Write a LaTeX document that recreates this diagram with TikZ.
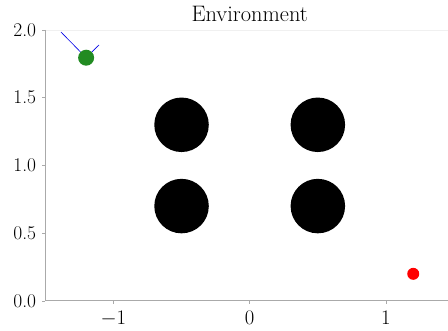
\documentclass[tikz,border=0pt]{standalone}
\usepackage{fontspec}
\usepackage{tikz}
\usetikzlibrary{positioning}
\definecolor{dSpine}{RGB}{170,170,170}
\definecolor{dGreen}{RGB}{34,139,34}
\definecolor{dRed}{RGB}{255,0,0}
\definecolor{dBlue}{RGB}{0,0,230}
\tikzset{
  spine/.style={draw=dSpine, line width=1bp},
  tick/.style={draw=dSpine, line width=0.8bp},
  ticklbl/.style={font=\fontsize{19.5}{22}\selectfont, inner sep=0pt},
  titlelbl/.style={font=\fontsize{22.5}{26}\selectfont, inner sep=0pt},
  obstacle/.style={circle, fill=black, minimum size=54.5bp, inner sep=0pt},
  robot/.style={circle, fill=dGreen, minimum size=16bp, inner sep=0pt},
  goal/.style={circle, fill=dRed, minimum size=12bp, inner sep=0pt},
  ray/.style={draw=dBlue, line width=0.6bp},
}

\begin{document}
\begin{tikzpicture}[x=136.3bp, y=135.5bp]
  \useasboundingbox (-1.832,-0.221) rectangle (1.455,2.221);
  % axes
  \draw[draw=black!6, line width=0.8bp] (-1.5,2) -- (1.455,2);
  \draw[spine] (-1.5,2) -- (-1.5,0) -- (1.455,0);
  \foreach \y/\t in {0/0.0,0.5/0.5,1/1.0,1.5/1.5,2/2.0} {
    \draw[tick] (-1.5,\y) -- ++(-3.5bp,0);
    \node[ticklbl, anchor=east] (y\t) at ([xshift=-9bp]-1.5,\y) {\t};
  }
  \foreach \x in {-1,0,1} {
    \draw[tick] (\x,0) -- ++(0,-3.5bp);
    \node[ticklbl, anchor=north] (x\x) at ([yshift=-10bp]\x,0) {$\x$};
  }
  \node[titlelbl, anchor=base] (title) at (0,2.065) {Environment};
  % obstacles
  \node[obstacle] (obs1) at (-0.5,0.7) {};
  \node[obstacle] (obs2) at (0.5,0.7) {};
  \node[obstacle] (obs3) at (-0.5,1.3) {};
  \node[obstacle] (obs4) at (0.5,1.3) {};
  % robot and goal
  \coordinate (rayL) at (-1.385,1.985);
  \coordinate (rayR) at (-1.105,1.89);
  \draw[ray] (-1.2,1.795) -- (rayL);
  \draw[ray] (-1.2,1.795) -- (rayR);
  \node[robot] (bot) at (-1.2,1.795) {};
  \node[goal] (goal) at (1.2,0.2) {};
\end{tikzpicture}
\end{document}
